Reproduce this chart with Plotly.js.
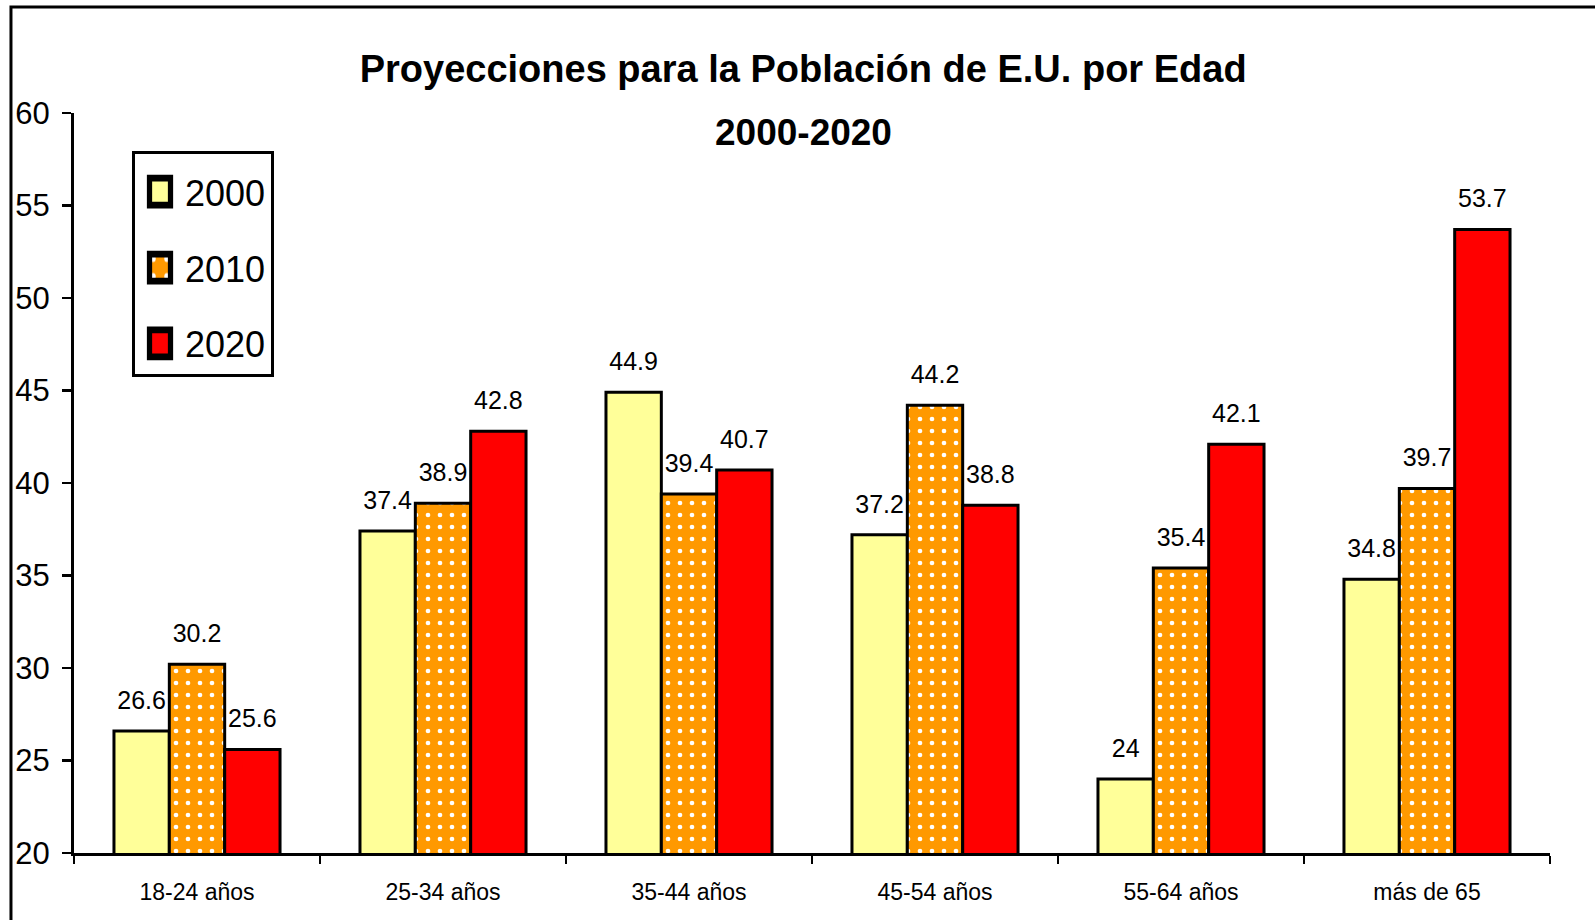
<!DOCTYPE html>
<html>
<head>
<meta charset="utf-8">
<script src="https://cdn.plot.ly/plotly-3.0.1.min.js"></script>
<style>
  html, body { margin: 0; padding: 0; background: #fff; }
  #chart { width: 1595px; height: 920px; }
</style>
</head>
<body>
<div id="chart"></div>
<script>
const categories = ["18-24 años", "25-34 años", "35-44 años", "45-54 años", "55-64 años", "más de 65"];
const seriesNames = ["2000", "2010", "2020"];
const values2000 = [26.6, 37.4, 44.9, 37.2, 24, 34.8];
const values2010 = [30.2, 38.9, 39.4, 44.2, 35.4, 39.7];
const values2020 = [25.6, 42.8, 40.7, 38.8, 42.1, 53.7];
const yTicks = [20, 25, 30, 35, 40, 45, 50, 55, 60];
const titleLine1 = 'Proyecciones para la Población de E.U. por Edad';
const titleLine2 = '2000-2020';

const FONT = '"Liberation Sans Narrow", "Liberation Sans", Arial, sans-serif';

function barTrace(name, vals, color, pattern, grp) {
  const t = {
    type: 'bar',
    name: name,
    legendgroup: name,
    offsetgroup: grp,
    x: categories,
    y: vals,
    marker: { color: color, line: { color: '#000', width: 3 } },
    hoverinfo: 'x+y+name'
  };
  if (pattern) t.marker.pattern = pattern;
  return t;
}

function labelTrace(name, vals, grp) {
  return {
    type: 'scatter',
    mode: 'markers+text',
    name: name,
    legendgroup: name,
    showlegend: false,
    offsetgroup: grp,
    x: categories,
    y: vals,
    text: vals.map(v => String(v)),
    textposition: 'top center',
    textfont: { family: FONT, size: 25, color: '#000' },
    marker: { size: 24, color: 'rgba(0,0,0,0)', line: { width: 0 } },
    cliponaxis: false,
    hoverinfo: 'skip'
  };
}

const data = [
  barTrace(seriesNames[0], values2000, '#FFFF99', null, 'g1'),
  barTrace(seriesNames[1], values2010, '#FF9900', { shape: '.', fgcolor: '#FFFFFF', bgcolor: '#FF9900', size: 12, solidity: 0.12 }, 'g2'),
  barTrace(seriesNames[2], values2020, '#FF0000', null, 'g3'),
  labelTrace(seriesNames[0], values2000, 'g1'),
  labelTrace(seriesNames[1], values2010, 'g2'),
  labelTrace(seriesNames[2], values2020, 'g3')
];

const layout = {
  width: 1595,
  height: 920,
  paper_bgcolor: '#fff',
  plot_bgcolor: '#fff',
  font: { family: FONT, color: '#000' },
  margin: { l: 74, r: 45, t: 113, b: 67, pad: 0 },
  barmode: 'group',
  bargap: 0.325,
  bargroupgap: 0,
  scattermode: 'group',
  scattergap: 0.325,
  title: {
    text: '<b>' + titleLine1 + '</b>',
    font: { family: FONT, size: 38, color: '#000' },
    x: 0.494,
    xref: 'paper',
    xanchor: 'center',
    y: 0.925,
    yref: 'container',
    yanchor: 'middle'
  },
  annotations: [
    {
      text: '<b>' + titleLine2 + '</b>',
      xref: 'paper', yref: 'paper',
      x: 0.494, y: 0.9743,
      xanchor: 'center', yanchor: 'middle',
      showarrow: false,
      font: { family: FONT, size: 37, color: '#000' }
    }
  ],
  xaxis: {
    type: 'category',
    showline: true,
    linecolor: '#000',
    linewidth: 3,
    ticks: 'outside',
    tickson: 'boundaries',
    ticklen: 8,
    tickwidth: 2.5,
    tickcolor: '#000',
    tickfont: { family: FONT, size: 23, color: '#000' },
    ticklabelstandoff: 16,
    showgrid: false,
    zeroline: false,
    fixedrange: true
  },
  yaxis: {
    range: [20, 60],
    tickvals: yTicks,
    ticktext: yTicks.map(String),
    showline: true,
    linecolor: '#000',
    linewidth: 3,
    ticks: 'outside',
    ticklen: 9,
    tickwidth: 2.5,
    tickcolor: '#000',
    tickfont: { family: FONT, size: 31, color: '#000' },
    ticklabelstandoff: 6,
    showgrid: false,
    zeroline: false,
    fixedrange: true
  },
  legend: {
    x: 0.0393,
    y: 0.9486,
    xref: 'paper',
    yref: 'paper',
    xanchor: 'left',
    yanchor: 'top',
    bgcolor: '#fff',
    bordercolor: '#000',
    borderwidth: 3,
    font: { family: FONT, size: 36, color: '#000' },
    title: { text: '&nbsp;', font: { family: FONT, size: 6, color: '#fff' } },
    itemwidth: 40,
    tracegroupgap: 26,
    traceorder: 'grouped'
  },
  shapes: [
    {
      type: 'rect',
      xref: 'paper', yref: 'paper',
      x0: -0.0427, x1: 1.2,
      y0: -0.3, y1: 1.1432,
      line: { color: '#000', width: 3 },
      fillcolor: 'rgba(0,0,0,0)',
      layer: 'below'
    }
  ],
  showlegend: true
};

Plotly.newPlot('chart', data, layout, { displayModeBar: false, staticPlot: true }).then(function (gd) {
  document.querySelectorAll('.legendpoints path').forEach(function (p) {
    const tr = p.getAttribute('transform') || '';
    p.setAttribute('transform', tr + ' scale(1.75,2.25)');
  });
});
</script>
</body>
</html>
